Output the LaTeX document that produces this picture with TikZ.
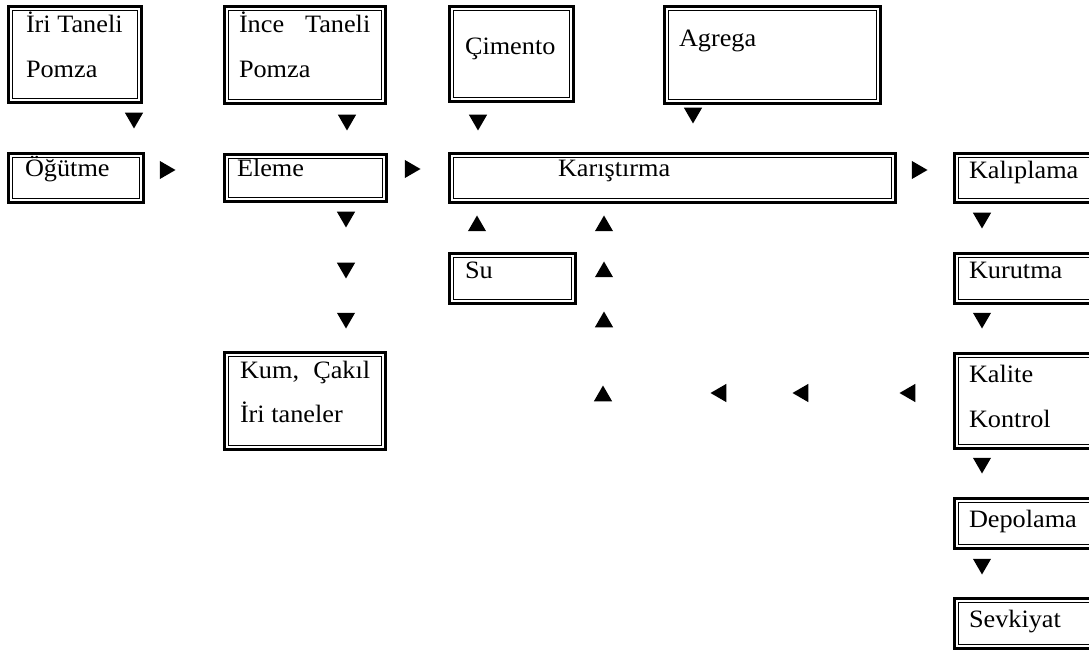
\documentclass[tikz,border=0pt]{standalone}
\usepackage{fontspec}
\setmainfont{Liberation Serif}
\usetikzlibrary{shapes.geometric}
\newcommand\stx[1]{\scalebox{1.05}[1]{#1}}
\newcommand\pbox[5]{%
  \node[pbox, minimum width=#4pt, minimum height=#5pt] (#1) at (#2,#3) {};
  \draw[line width=1.2pt] ([shift={(4.2pt,-4.2pt)}]#1.north west) rectangle ([shift={(-4.2pt,4.2pt)}]#1.south east);}
\begin{document}
\begin{tikzpicture}[x=1pt,y=-1pt,
  pbox/.style={draw, line width=3pt, inner sep=0pt, outer sep=0pt, anchor=north west},
  lbl/.style={anchor=base west, inner sep=0pt, outer sep=0pt, font=\fontsize{25}{30}\selectfont},
  tri/.style={regular polygon, regular polygon sides=3, fill=black, draw=none, inner sep=0pt, outer sep=0pt, minimum size=21pt},
  dn/.style={tri, shape border rotate=180},
  up/.style={tri},
  rt/.style={tri, shape border rotate=-90},
  lt/.style={tri, shape border rotate=90}]
\useasboundingbox (0,0) rectangle (1089,652);
\clip (0,0) rectangle (1089,652);
% boxes
\pbox{iri}{8.5}{6.5}{133}{96}
\pbox{ince}{224.5}{6.5}{161}{97}
\pbox{cim}{449.5}{6.5}{124}{95}
\pbox{agr}{664.5}{6.5}{216}{97}
\pbox{ogut}{8.5}{153.5}{135}{49}
\pbox{eleme}{224.5}{154.5}{162}{47}
\pbox{kar}{449.5}{153.5}{446}{49}
\pbox{kalip}{954.5}{153.5}{160}{49}
\pbox{su}{449.5}{253.5}{126}{50}
\pbox{kurut}{954.5}{253.5}{160}{50}
\pbox{kum}{224.5}{352.5}{161}{97}
\pbox{kalite}{954.5}{353.5}{160}{95}
\pbox{depo}{954.5}{498.5}{160}{50}
\pbox{sevk}{954.5}{598.5}{160}{50}
% labels
\node[lbl] (t1a) at (26,33) {\stx{İri Taneli}};
\node[lbl] (t1b) at (26,78) {\stx{Pomza}};
\node[lbl] (t2a) at (239,33) {\stx{\hbox to 125pt{İnce\hfill Taneli}}};
\node[lbl] (t2b) at (239,78) {\stx{Pomza}};
\node[lbl] (t3) at (465,55) {\stx{Çimento}};
\node[lbl] (t4) at (679,47) {\stx{Agrega}};
\node[lbl] (t5) at (25,177) {\stx{Öğütme}};
\node[lbl] (t6) at (237,177) {\stx{Eleme}};
\node[lbl] (t7) at (558,177) {\stx{Karıştırma}};
\node[lbl] (t8) at (969,179) {\stx{Kalıplama}};
\node[lbl] (t9) at (465,279) {\stx{Su}};
\node[lbl] (t10) at (969,279) {\stx{Kurutma}};
\node[lbl] (t11a) at (240,378) {\stx{\hbox to 124pt{Kum,\hfill Çakıl}}};
\node[lbl] (t11b) at (240,422) {\stx{İri taneler}};
\node[lbl] (t12a) at (969,382) {\stx{Kalite}};
\node[lbl] (t12b) at (969,427) {\stx{Kontrol}};
\node[lbl] (t13) at (969,527) {\stx{Depolama}};
\node[lbl] (t14) at (969,627) {\stx{Sevkiyat}};
% arrow marks
\node[dn] (d1) at (134,118) {};
\node[dn] (d2) at (347,120) {};
\node[dn] (d3) at (478,120) {};
\node[dn] (d4) at (693,113) {};
\node[dn] (d5) at (346,217) {};
\node[dn] (d6) at (346,268) {};
\node[dn] (d7) at (346,318) {};
\node[dn] (d8) at (982,218) {};
\node[dn] (d9) at (982,318) {};
\node[dn] (d10) at (982,463) {};
\node[dn] (d11) at (982,564) {};
\node[up] (u1) at (477,226) {};
\node[up] (u2) at (604,226) {};
\node[up] (u3) at (604,272) {};
\node[up] (u4) at (604,322) {};
\node[up] (u5) at (603,396) {};
\node[rt] (r1) at (165,170) {};
\node[rt] (r2) at (410,169) {};
\node[rt] (r3) at (917,170) {};
\node[lt] (l1) at (721,393) {};
\node[lt] (l2) at (803,393) {};
\node[lt] (l3) at (910,393) {};
\end{tikzpicture}
\end{document}
